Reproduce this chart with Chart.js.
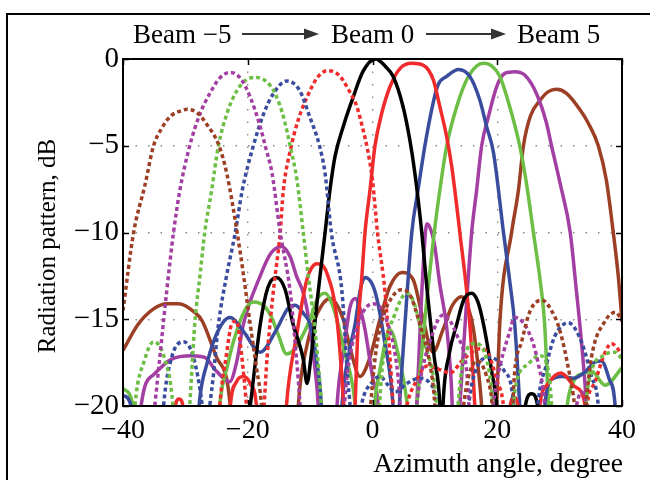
<!DOCTYPE html>
<html>
<head>
<meta charset="utf-8">
<script src="https://cdn.jsdelivr.net/npm/chart.js@4.4.0/dist/chart.umd.min.js"></script>
<style>
  html, body { margin: 0; padding: 0; background: #fff; }
</style>
</head>
<body>
<canvas id="beams" width="656" height="480"></canvas>
<script>
// beam patterns, [azimuth deg, dB]; -24 marks a null below the axis
const beamM5 = [[-40,-14.5],[-38.3,-10],[-36.5,-7.3],[-35.1,-5],[-33.8,-4],[-32.4,-3.3],[-30.8,-3],[-29.7,-2.9],[-28.1,-3.1],[-26.5,-3.8],[-24.6,-5],[-23.3,-6.7],[-21.7,-10],[-20.7,-12.4],[-19.6,-15.3],[-18.6,-17.8],[-17.8,-20],[-17.2,-24],[-1,-24],[-0.3,-20],[0.5,-17],[1.5,-15.1],[3,-13.8],[4.6,-13.3],[6,-13.6],[7.6,-15.3],[9.2,-17.6],[10,-20],[10.5,-24],[13.6,-24],[14.6,-20],[15.4,-18.3],[16.8,-17.4],[18.3,-18.3],[19.2,-20],[19.8,-24],[21.8,-24],[22.8,-18],[23.9,-16.3],[25.3,-14.5],[27.2,-13.9],[28.7,-14.5],[30,-15.6],[31.5,-18],[32.4,-20],[33.3,-24],[34.2,-20],[35.1,-17.2],[37.3,-15.1],[39,-14.6],[40,-15.1]];
const beamM4 = [[-36,-24],[-34.9,-20],[-34.1,-17.2],[-33,-13.4],[-31.9,-10],[-30.9,-7.6],[-29.3,-5],[-27.7,-3.2],[-26.1,-2],[-24.5,-1.1],[-22.8,-0.77],[-21.2,-1.1],[-19.6,-2.2],[-18,-3.9],[-17.2,-5],[-16.1,-6.6],[-14.8,-10],[-13.2,-13.4],[-12.2,-17.2],[-11.6,-20],[-11,-24],[-5.5,-24],[-4.1,-18.3],[-2,-15],[0.1,-14.1],[2.2,-15],[4.1,-18.3],[5.3,-24],[6.3,-22],[7.6,-18.6],[9.2,-16.3],[11.3,-14.75],[13.5,-15.9],[15.1,-18],[16.2,-24],[18.5,-22],[19.9,-18.6],[22,-15.7],[22.8,-14.9],[25,-15.7],[26.6,-17.6],[27.6,-20],[28.2,-24],[31.5,-22],[33.5,-19.2],[35.5,-22]];
const beamM3 = [[-38.8,-24],[-38.1,-20],[-36.5,-17.3],[-35.1,-16.3],[-33.3,-17.3],[-32,-20],[-31.4,-24],[-30,-24],[-29.3,-20],[-28.5,-15.3],[-27.6,-12.3],[-26.9,-10],[-25.8,-7.6],[-24.7,-5],[-23.3,-3.1],[-21.7,-1.8],[-20.1,-1.17],[-18.6,-1.06],[-17,-1.3],[-15.6,-2],[-14.3,-3.3],[-13.2,-5],[-12.1,-7],[-11.1,-10],[-10.3,-12.5],[-9.4,-15],[-8.6,-18],[-8.2,-20],[-7.8,-24],[0.4,-24],[1.1,-20],[1.7,-17.3],[3.6,-14.7],[5.5,-13.5],[6.6,-14],[8.2,-16.3],[9.7,-18.2],[10.3,-20],[10.8,-24],[13,-24],[13.7,-20],[14.6,-17.3],[16.5,-16.4],[18.7,-18],[19.3,-20],[19.8,-24],[22,-24],[22.8,-19.2],[24.9,-17.6],[26.8,-17.1],[28.2,-18],[28.7,-20],[29.1,-24],[33.6,-24],[34.2,-20],[35.1,-18],[37,-17.1],[38.9,-16.9],[40,-17.3]];
const beamM2 = [[-34.2,-24],[-33.5,-20],[-32.2,-17.2],[-30.3,-16.3],[-28.7,-17.2],[-27.3,-20],[-26.8,-22],[-26.1,-20],[-25.5,-18.2],[-24.7,-15.3],[-23.4,-12.5],[-22,-10],[-20.9,-7.6],[-19.1,-5],[-17.5,-3.2],[-15.9,-2],[-13.8,-1.27],[-11.7,-1.8],[-10.1,-3.3],[-8.5,-5],[-7.6,-6.6],[-6.6,-10],[-4.9,-13.4],[-3.9,-18.8],[-3.6,-20],[-3.2,-24],[-1.8,-20],[0,-18.6],[1.2,-18.3],[2.5,-18.8],[3.6,-19.2],[5.5,-18.7],[7.5,-18.4],[9.2,-18.7],[10.3,-20],[11,-24],[14.5,-24],[15.4,-20],[16.7,-17.8],[18.8,-17.2],[21,-17.9],[22.6,-19.8],[23.3,-24],[25.8,-24],[26.5,-20],[27.9,-17.6],[29.2,-16],[31.4,-15.2],[33.5,-16.3],[35.1,-18.3],[36.2,-20],[36.8,-24]];
const beamM1 = [[-25.2,-24],[-24.5,-20],[-23.4,-17],[-22.6,-15.3],[-21.8,-15.1],[-21,-17],[-20.2,-20],[-19.6,-23],[-18.8,-24],[-17.4,-20],[-16.9,-17.2],[-15.9,-13.4],[-14.8,-10],[-14.3,-7.6],[-13.2,-5.3],[-11.9,-3.5],[-10.5,-2.2],[-8.9,-1.1],[-7.2,-0.67],[-5.4,-0.92],[-3.8,-1.8],[-2.5,-2.75],[-1.5,-4.1],[-0.8,-5.2],[0,-7],[0.8,-10],[2,-13.4],[2.8,-17.2],[3.3,-20],[3.8,-24],[5.5,-20],[7.1,-18.5],[8.7,-17.7],[10.8,-17.9],[12.4,-18.1],[14.6,-17.3],[17.2,-16.7],[18.6,-17],[19.9,-18.5],[21,-20],[21.8,-24],[33.6,-24],[34.4,-20],[35.7,-18.6],[37.3,-16.9],[38.3,-16.4],[40,-17]];
const beam0 = [[-21,-24],[-19.6,-20],[-18,-15.3],[-16.8,-13.2],[-15.4,-12.6],[-14,-13.3],[-12.8,-15.2],[-11.1,-17.3],[-10.5,-18.7],[-9.9,-17.3],[-8.7,-13.4],[-7.6,-10],[-6.8,-7.5],[-6,-5.6],[-4.7,-3.9],[-3.1,-2.2],[-1.5,-0.7],[0.5,0],[2,-0.4],[3.3,-1],[4.9,-2.75],[6,-4.7],[6.8,-6.6],[7.9,-10],[8.8,-13.5],[9.9,-17.2],[10.8,-20],[11.05,-23],[11.3,-20],[12.3,-17],[13.5,-15.3],[14.6,-13.9],[15.9,-13.5],[16.9,-14],[17.8,-15.3],[19.1,-18],[19.9,-20],[20.5,-24],[23.6,-24],[24.3,-20.5],[25.5,-19.3],[26.6,-20.3],[27.3,-24]];
const beamP1 = [[-32.4,-24],[-31.8,-20.5],[-31,-19.6],[-30.2,-20.5],[-29.6,-24],[-23.4,-24],[-22.8,-20],[-21.8,-18.6],[-20.7,-18.3],[-19.6,-18.7],[-18.6,-20],[-18,-24],[-14.4,-24],[-13.8,-20],[-12.2,-16],[-10.5,-12.7],[-8.9,-11.8],[-7.3,-12.35],[-5.7,-15],[-4.6,-20],[-4,-24],[-3.3,-24],[-2.8,-20],[-2.3,-15.3],[-1.7,-12.5],[-1.2,-10],[-0.4,-7.55],[0.4,-5],[1.5,-3.1],[2.8,-1.6],[4.4,-0.55],[6.3,-0.25],[8.1,-0.35],[9.75,-1.2],[10.8,-2.75],[11.9,-4.5],[12.7,-6.2],[14,-10],[15.6,-15.3],[16.4,-20],[16.9,-24],[21.3,-24],[21.9,-20.5],[22.7,-19.5],[23.5,-20.5],[24.1,-24],[26,-24],[26.8,-20],[28.2,-18.7],[30.2,-18.1],[32.5,-18.9],[34.1,-20],[34.6,-24]];
const beamP2 = [[-40,-19.4],[-38.7,-20],[-38.2,-24],[-28.6,-24],[-27.7,-19.6],[-26.5,-17.5],[-25.5,-16.3],[-24,-15.2],[-22.8,-14.9],[-20.7,-15.7],[-18,-16.9],[-15.4,-15.6],[-13.6,-14.4],[-12.4,-14.2],[-11,-14.7],[-10,-15.3],[-9,-17.3],[-8.2,-20],[-7.8,-24],[-5.4,-24],[-4.9,-20],[-3.8,-17],[-2.8,-15.3],[-1.9,-13.2],[-1.2,-12.6],[0.4,-13.4],[1.9,-16.2],[3.3,-20],[3.7,-23],[4.3,-20],[5.2,-15.3],[6.3,-10],[7.3,-7.55],[8.4,-5],[9.5,-2.9],[10.5,-1.5],[11.9,-1],[13.8,-0.6],[15.6,-1],[17.2,-2.36],[18.3,-3.9],[19.4,-5.4],[21,-10],[22,-12.8],[22.8,-15.3],[23.6,-20],[24.1,-24],[26.8,-24],[27.6,-20],[28.6,-18.5],[30.5,-18.3],[32.2,-18.4],[34.2,-18],[35.5,-17.5],[36.7,-17.4],[37.9,-18.4],[38.9,-20],[39.4,-24]];
const beamP3 = [[-40,-19],[-38.4,-20],[-37.8,-24],[-25.2,-24],[-24.5,-20],[-23.2,-17.6],[-22.3,-16.3],[-20.5,-14.5],[-19.1,-14],[-17.5,-14.2],[-16.3,-14.8],[-15,-16],[-13.8,-17],[-12.7,-16.8],[-11.6,-16.2],[-10,-15],[-8.8,-13.8],[-7.6,-13.5],[-6.5,-14.1],[-5.5,-15.3],[-4.4,-17],[-3.3,-18.6],[-2.8,-20],[-2.3,-24],[-0.4,-24],[0.3,-20],[1.2,-17.9],[2.8,-15.6],[4.1,-17],[5.5,-19.7],[6.3,-23],[7.1,-20],[8.4,-15],[9.9,-10],[10.8,-7.55],[11.9,-5],[13.5,-2.75],[15.1,-1.2],[16.7,-0.4],[17.8,-0.25],[19.1,-0.4],[20.4,-1],[22,-2.75],[23.6,-5],[24.7,-7.2],[25.8,-10],[27.1,-13.4],[27.6,-15.3],[28.2,-20],[28.7,-24],[30.4,-24],[31.2,-20],[32.2,-18.6],[34,-18.1],[35.1,-18],[37.3,-18.8],[40,-17.8]];
const beamP4 = [[-37.6,-24],[-37.1,-20],[-35.1,-18.2],[-32.2,-17.3],[-29,-17.1],[-26.9,-17.2],[-25,-18],[-22.9,-18.6],[-21.8,-17.5],[-20.7,-15.3],[-18,-12.5],[-16.3,-11.2],[-14.6,-10.8],[-13.2,-11.4],[-12.2,-12.5],[-11,-13.6],[-10,-15.5],[-9.3,-17.6],[-8.7,-20],[-8.3,-24],[-6.2,-24],[-5.7,-20],[-4.5,-16.5],[-3.6,-14.3],[-2.8,-13.8],[-1.9,-14.5],[-1.2,-15.6],[0.1,-18.5],[0.9,-20],[1.3,-24],[6.5,-24],[7.1,-20],[7.7,-15],[8.2,-11.5],[8.7,-9.5],[9.3,-9.8],[9.9,-10.6],[10.8,-13],[11.9,-15.5],[12.6,-18.5],[13.1,-22],[13.6,-22],[14,-20],[14.9,-15],[15.9,-10],[16.7,-7.55],[17.5,-5],[18.6,-3.3],[19.9,-1.6],[21.2,-0.83],[22.8,-0.73],[24.4,-0.92],[26.3,-2],[27.9,-3.7],[28.7,-5],[30.1,-7.2],[31.7,-10],[32.7,-13.4],[33.5,-16.3],[34.3,-20],[34.8,-24]];
const beamP5 = [[-40,-16.8],[-37.6,-15.3],[-35.1,-14.4],[-33,-14.1],[-31.1,-14.1],[-28.5,-14.6],[-27.3,-15.1],[-25,-17.2],[-22.8,-20],[-22.3,-24],[-12.4,-24],[-11.9,-20],[-10.5,-16.5],[-8.9,-14.7],[-6.8,-13.8],[-4.7,-15],[-3.5,-16.8],[-2,-18.3],[-0.5,-17.3],[1.2,-15],[2.8,-13.1],[4.7,-12.3],[6.5,-12.7],[8.1,-15],[9.7,-16.9],[11.3,-15.6],[12.8,-14.2],[14.3,-13.7],[15.4,-14.4],[16.2,-15.6],[17.5,-20],[18.2,-24],[19.3,-24],[19.9,-20],[20.4,-15.3],[22.3,-10],[23.4,-7.55],[24.2,-5],[25.3,-3.3],[26.9,-2.36],[28.2,-1.88],[29.5,-1.75],[31.1,-1.98],[33.3,-2.94],[34.6,-3.7],[36.2,-5],[37.5,-7],[38.6,-10],[39.4,-12.5],[40,-15.1]];

const headerLabels = ['Beam \u22125', 'Beam 0', 'Beam 5'];
const xTitle = 'Azimuth angle, degree';
const yTitle = 'Radiation pattern, dB';

const BROWN = '#9c3f24', PURPLE = '#a33fa3', GREEN = '#6cbe45', BLUE = '#3a4c9e', RED = '#ef2b2b';
const SERIF = '"Liberation Serif", "DejaVu Serif", serif';

function series(points, color, dotted) {
  return {
    data: points.map(p => ({ x: p[0], y: p[1] })),
    borderColor: color,
    borderWidth: 3.5,
    borderDash: dotted ? [4, 3] : [],
    borderCapStyle: 'butt',
    pointRadius: 0,
    cubicInterpolationMode: 'monotone',
    fill: false
  };
}

const minus = v => (v < 0 ? '\u2212' + Math.abs(v) : String(v));

const decor = {
  id: 'decor',
  afterDatasetsDraw(chart) {
    const { ctx, chartArea: a, scales: { x, y } } = chart;
    ctx.save();
    ctx.strokeStyle = '#000';
    ctx.lineWidth = 1.5;
    ctx.beginPath();
    x.ticks.forEach(t => {
      const px = Math.round(x.getPixelForValue(t.value)) + 0.5;
      ctx.moveTo(px, a.bottom); ctx.lineTo(px, a.bottom - 6);
      ctx.moveTo(px, a.top); ctx.lineTo(px, a.top + 6);
    });
    y.ticks.forEach(t => {
      const py = Math.round(y.getPixelForValue(t.value)) + 0.5;
      ctx.moveTo(a.left, py); ctx.lineTo(a.left + 6, py);
      ctx.moveTo(a.right, py); ctx.lineTo(a.right - 6, py);
    });
    ctx.stroke();
    ctx.lineWidth = 2;
    ctx.strokeRect(a.left, a.top, a.right - a.left, a.bottom - a.top);
    ctx.restore();
  },
  afterDraw(chart) {
    const { ctx, chartArea: a } = chart;
    ctx.save();
    // outer figure frame (top and left)
    ctx.strokeStyle = '#000';
    ctx.lineWidth = 2;
    ctx.beginPath();
    ctx.moveTo(7, 480); ctx.lineTo(7, 14); ctx.lineTo(650, 14);
    ctx.stroke();

    // header
    ctx.fillStyle = '#000';
    ctx.font = '27px ' + SERIF;
    ctx.textBaseline = 'alphabetic';
    ctx.textAlign = 'left';
    ctx.fillText(headerLabels[0], 133, 43);
    ctx.fillText(headerLabels[1], 331, 43);
    ctx.fillText(headerLabels[2], 517, 43);
    const arrow = (x1, x2, yy) => {
      ctx.strokeStyle = '#333';
      ctx.fillStyle = '#333';
      ctx.lineWidth = 2.2;
      ctx.beginPath(); ctx.moveTo(x1, yy); ctx.lineTo(x2 - 10, yy); ctx.stroke();
      ctx.beginPath(); ctx.moveTo(x2, yy); ctx.lineTo(x2 - 15, yy - 5.5); ctx.lineTo(x2 - 15, yy + 5.5); ctx.closePath(); ctx.fill();
    };
    arrow(242, 319, 34);
    arrow(426, 506, 34);

    // axis titles
    ctx.fillStyle = '#000';
    ctx.font = '27.5px ' + SERIF;
    ctx.textAlign = 'right';
    ctx.fillText(xTitle, a.right + 1, 472);
    ctx.translate(55, 246);
    ctx.rotate(-Math.PI / 2);
    ctx.textAlign = 'center';
    ctx.font = '25px ' + SERIF;
    ctx.fillText(yTitle, 0, 0);
    ctx.restore();
  }
};

new Chart(document.getElementById('beams'), {
  type: 'line',
  data: {
    datasets: [
      series(beamM5, BROWN, true),
      series(beamM4, PURPLE, true),
      series(beamM3, GREEN, true),
      series(beamM2, BLUE, true),
      series(beamM1, RED, true),
      series(beam0, '#000', false),
      series(beamP1, RED, false),
      series(beamP2, BLUE, false),
      series(beamP3, GREEN, false),
      series(beamP4, PURPLE, false),
      series(beamP5, BROWN, false)
    ]
  },
  options: {
    responsive: false,
    animation: false,
    devicePixelRatio: 1,
    layout: { padding: { top: 59, right: 34, left: 0, bottom: 0 } },
    plugins: { legend: { display: false }, tooltip: { enabled: false } },
    scales: {
      x: {
        type: 'linear',
        min: -40,
        max: 40,
        afterFit: s => { s.height = 74; },
        ticks: { stepSize: 20, padding: 8, color: '#000', font: { family: SERIF, size: 28 }, callback: minus, maxRotation: 0 },
        grid: { color: c => (Math.abs(c.tick.value) === 40 ? 'rgba(0,0,0,0)' : '#8a8a8a'), lineWidth: 1.4, drawTicks: false },
        border: { display: false, dash: [1.5, 11] }
      },
      y: {
        min: -20,
        max: 0,
        afterFit: s => { s.width = 123; },
        ticks: { stepSize: 5, padding: 4, color: '#000', font: { family: SERIF, size: 29 }, callback: minus },
        grid: { color: c => (c.tick.value === 0 || c.tick.value === -20 ? 'rgba(0,0,0,0)' : '#8a8a8a'), lineWidth: 1.4, drawTicks: false },
        border: { display: false, dash: [1.5, 11] }
      }
    }
  },
  plugins: [decor]
});
</script>
</body>
</html>
